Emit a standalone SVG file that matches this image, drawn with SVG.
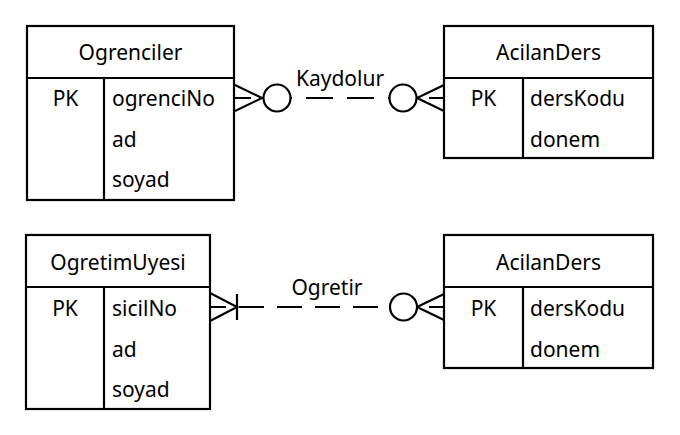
<svg xmlns="http://www.w3.org/2000/svg" width="680" height="435" viewBox="0 0 680 435">
<style>
.box{fill:#fff;stroke:#000;stroke-width:2.2}
.ln{fill:none;stroke:#000;stroke-width:2.2}
.t{font-family:"Noto Sans","Open Sans","DejaVu Sans",sans-serif;font-size:21px;fill:#000}
.c{text-anchor:middle}
.circ{fill:#fff;stroke:#000;stroke-width:2.2}
</style>
<rect width="680" height="435" fill="#fff"/>
<g id="connectors">
  <g id="rel-kaydolur">
    <path class="ln" d="M234,98 H444" stroke-dasharray="27 14" stroke-dashoffset="10"/>
    <path class="ln" d="M235,85 L262,98 L235,111"/>
    <circle class="circ" cx="277" cy="98" r="13.5"/>
    <path class="ln" d="M444,85 L417,98 L444,111"/>
    <circle class="circ" cx="403" cy="98" r="13.5"/>
    <text class="t c" x="340" y="86">Kaydolur</text>
  </g>
  <g id="rel-ogretir">
    <path class="ln" d="M210,307 H444" stroke-dasharray="25 13" stroke-dashoffset="9"/>
    <path class="ln" d="M210,293 L237,307 L210,321"/>
    <path class="ln" d="M237,294 V320"/>
    <path class="ln" d="M444,294 L417,307 L444,320"/>
    <circle class="circ" cx="403.5" cy="307" r="13.5"/>
    <text class="t c" x="327" y="295">Ogretir</text>
  </g>
</g>
<g id="Ogrenciler">
  <rect class="box" x="27" y="26" width="207" height="174"/>
  <path class="ln" d="M27,78 H234 M104,78 V200"/>
  <text class="t c" x="130.5" y="60">Ogrenciler</text>
  <text class="t c" x="65.5" y="106">PK</text>
  <text class="t" x="112" y="106">ogrenciNo</text>
  <text class="t" x="112" y="146.5">ad</text>
  <text class="t" x="112" y="186.5">soyad</text>
</g>
<g id="AcilanDers1">
  <rect class="box" x="444" y="26" width="209" height="132"/>
  <path class="ln" d="M444,78 H653 M523,78 V158"/>
  <text class="t c" x="548.5" y="59.5">AcilanDers</text>
  <text class="t c" x="483.5" y="106">PK</text>
  <text class="t" x="530" y="106">dersKodu</text>
  <text class="t" x="530" y="146.5">donem</text>
</g>
<g id="OgretimUyesi">
  <rect class="box" x="26" y="235" width="184" height="174"/>
  <path class="ln" d="M26,287 H210 M104,287 V409"/>
  <text class="t c" x="118" y="269.5">OgretimUyesi</text>
  <text class="t c" x="65" y="316">PK</text>
  <text class="t" x="112" y="316">sicilNo</text>
  <text class="t" x="112" y="356.5">ad</text>
  <text class="t" x="112" y="396.5">soyad</text>
</g>
<g id="AcilanDers2">
  <rect class="box" x="444" y="235" width="209" height="133"/>
  <path class="ln" d="M444,287 H653 M523,287 V368"/>
  <text class="t c" x="548.5" y="269.5">AcilanDers</text>
  <text class="t c" x="483.5" y="316">PK</text>
  <text class="t" x="530" y="316">dersKodu</text>
  <text class="t" x="530" y="356.5">donem</text>
</g>
</svg>
